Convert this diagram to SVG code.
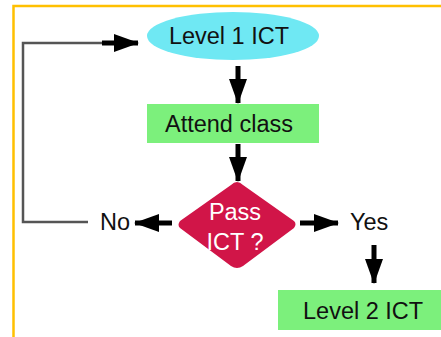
<svg xmlns="http://www.w3.org/2000/svg" width="441" height="337" viewBox="0 0 441 337">
<defs>
<style>
.t{font-family:"Liberation Sans",Arial,sans-serif;font-size:23.5px;fill:#111}
.w{fill:#fff}
.a{stroke:#000;stroke-width:5;fill:none}
.g{stroke:#555;stroke-width:2.5;fill:none}
</style>
<marker id="ah" viewBox="0 0 25 18" refX="24" refY="9" markerWidth="25" markerHeight="18" markerUnits="userSpaceOnUse" orient="auto">
<path d="M0,0 L25,9 L0,18 Z" fill="#000"/>
</marker>
</defs>
<rect x="0" y="0" width="441" height="337" fill="#fff"/>
<path d="M13.5,337 V6 H441" stroke="#ffc000" stroke-width="2.5" fill="none"/>
<g id="connectors">
<path class="a" d="M238,66 V103" marker-end="url(#ah)"/>
<path class="a" d="M238,144 V181" marker-end="url(#ah)"/>
<path class="a" d="M172,223 H135" marker-end="url(#ah)"/>
<path class="a" d="M300,223 H338" marker-end="url(#ah)"/>
<path class="a" d="M374,245 V283" marker-end="url(#ah)"/>
<path class="g" d="M88,222 H23 V43 H104"/>
<path class="a" d="M102,43 H138" marker-end="url(#ah)"/>
</g>
<g id="level1">
<ellipse cx="233" cy="36" rx="86" ry="24" fill="#6fe8f3"/>
<text class="t" x="229" y="44" text-anchor="middle">Level 1 ICT</text>
</g>
<g id="attend">
<rect x="147" y="104" width="172" height="39" fill="#7cf07c"/>
<text class="t" x="229" y="132" text-anchor="middle">Attend class</text>
</g>
<g id="pass">
<path d="M237,182 Q240,182 243,185 L294,221 Q297,224 294,228 L243,266 Q237,270 231,266 L180,228 Q177,225 180,221 L231,185 Q234,182 237,182 Z" fill="#d11548"/>
<text class="t w" x="235" y="220" text-anchor="middle">Pass</text>
<text class="t w" x="235" y="250" text-anchor="middle">ICT ?</text>
</g>
<g id="no">
<text class="t" x="100" y="230">No</text>
</g>
<g id="yes">
<text class="t" x="350" y="230">Yes</text>
</g>
<g id="level2">
<rect x="278" y="290" width="163" height="40" fill="#7cf07c"/>
<text class="t" x="303" y="319">Level 2 ICT</text>
</g>
</svg>
